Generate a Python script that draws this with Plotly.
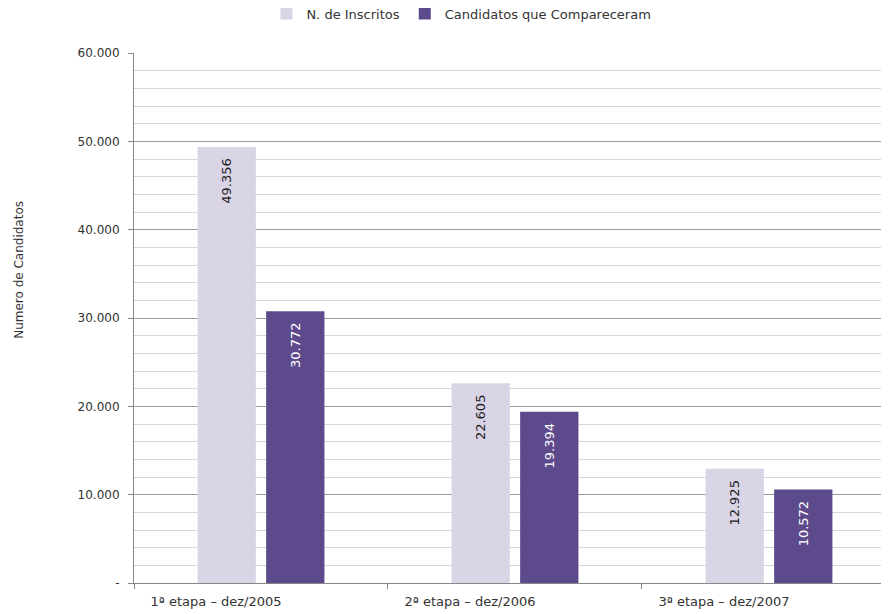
import plotly.graph_objects as go

categories = ["1ª etapa – dez/2005", "2ª etapa – dez/2006", "3ª etapa – dez/2007"]
inscritos = [49356, 22605, 12925]
compareceram = [30772, 19394, 10572]
series_names = ["N. de Inscritos", "Candidatos que Compareceram"]
y_tickvals = [0, 10000, 20000, 30000, 40000, 50000, 60000]
y_ticktext = ["-", "10.000", "20.000", "30.000", "40.000", "50.000", "60.000"]
y_title = "Numero de Candidatos"


def fmt(v):
    return f"{v:,}".replace(",", ".") + "\u00a0\u00a0"


FONT = "DejaVu Sans"
LIGHT = "#DAD4E7"
DARK = "#5D4A8C"

fig = go.Figure()
fig.add_trace(go.Bar(
    x=categories, y=inscritos, name=series_names[0],
    marker=dict(color=LIGHT, line=dict(width=0)),
    text=[fmt(v) for v in inscritos], textposition="inside",
    insidetextanchor="end", textangle=-90,
    textfont=dict(family=FONT, size=13, color="#222222"),
))
fig.add_trace(go.Bar(
    x=categories, y=compareceram, name=series_names[1],
    marker=dict(color=DARK, line=dict(width=0)),
    text=[fmt(v) for v in compareceram], textposition="inside",
    insidetextanchor="end", textangle=-90,
    textfont=dict(family=FONT, size=13, color="#FFFFFF"),
))

fig.update_layout(
    width=889, height=614,
    margin=dict(l=126, r=0, t=45, b=39, autoexpand=False),
    paper_bgcolor="white", plot_bgcolor="white",
    barmode="group", bargap=0.46, bargroupgap=0.15,
    font=dict(family=FONT, size=12, color="#333333"),
    showlegend=True,
    legend=dict(orientation="h", xref="container", x=0.51, xanchor="center",
                yref="container", y=0.991, yanchor="middle",
                font=dict(family=FONT, size=13, color="#333333"),
                itemwidth=30, traceorder="normal"),
    annotations=[dict(
        text=y_title, textangle=-90, xref="paper", yref="paper",
        x=-0.15, y=0.59, xanchor="center", yanchor="middle", showarrow=False,
        font=dict(family=FONT, size=12, color="#333333"),
    )],
)
fig.update_xaxes(
    type="category", range=[-0.5, 2.504], automargin=False,
    showline=True, linecolor="#888888", linewidth=1,
    ticks="outside", tickson="boundaries", ticklen=5, tickcolor="#888888",
    showgrid=False, tickfont=dict(family=FONT, size=13, color="#333333"),
    ticklabelstandoff=6, ticklabelshift=-45,
)
fig.update_yaxes(
    range=[0, 60000], tickvals=y_tickvals, ticktext=y_ticktext, automargin=False,
    showline=True, linecolor="#888888", linewidth=1,
    ticks="outside", ticklen=5, tickcolor="#888888",
    showgrid=True, gridcolor="#9A9A9A", gridwidth=1,
    minor=dict(dtick=2000, showgrid=True, gridcolor="#D6D6D6", gridwidth=1),
    zeroline=False,
    tickfont=dict(family=FONT, size=12, color="#333333"),
    ticklabelstandoff=6,
)

fig.write_html("out.html")
